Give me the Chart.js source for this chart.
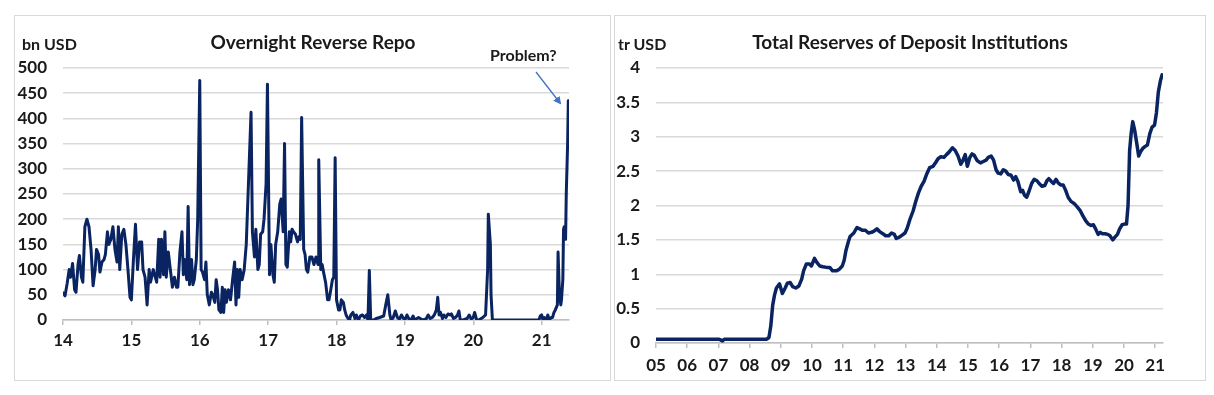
<!DOCTYPE html>
<html>
<head>
<meta charset="utf-8">
<script src="https://cdn.jsdelivr.net/npm/chart.js@4.4.1/dist/chart.umd.min.js"></script>
<style>
  html, body { margin: 0; padding: 0; background: #ffffff; }
  body { width: 1214px; height: 395px; position: relative; overflow: hidden; font-family: Lato, "Liberation Sans", sans-serif; }
  .panel { position: absolute; border: 1px solid #d9d9d9; box-sizing: border-box; }
  .panel canvas { position: absolute; left: 0; top: 0; }
  .lbl { position: absolute; font-weight: bold; color: #1a1a1a; white-space: nowrap; }
  .ttl { position: absolute; font-weight: bold; color: #1a1a1a; white-space: nowrap; font-size: 19px; line-height: 23px; text-align: center; width: 500px; }
</style>
</head>
<body>
<div class="panel" id="p1" style="left:14px; top:15px; width:597px; height:366px;">
  <canvas id="c1" width="596" height="365" style="width:596px;height:365px;"></canvas>
</div>
<div class="panel" id="p2" style="left:614px; top:15px; width:592px; height:366px;">
  <canvas id="c2" width="591" height="365" style="width:591px;height:365px;"></canvas>
</div>
<div class="ttl" style="left:63px; top:30px;">Overnight Reverse Repo</div>
<div class="ttl" style="left:660px; top:30px;">Total Reserves of Deposit Institutions</div>
<div class="lbl" style="left:22px; top:34px; font-size:16px;">bn USD</div>
<div class="lbl" style="left:490px; top:45px; font-size:16px;">Problem?</div>
<div class="lbl" style="left:618px; top:34px; font-size:16px;">tr USD</div>
<svg style="position:absolute;left:0;top:0;" width="1214" height="395">
  <defs>
    <marker id="ah" markerWidth="8" markerHeight="8" refX="6" refY="4" orient="auto" markerUnits="userSpaceOnUse">
      <path d="M0,0 L8,4 L0,8 Z" fill="#4472c4"/>
    </marker>
  </defs>
  <line x1="536" y1="72" x2="560" y2="103" stroke="#4472c4" stroke-width="1.3" marker-end="url(#ah)"/>
</svg>
<script>
// ---- Overnight Reverse Repo (bn USD), x = year (14 = 2014)
const repoYears = [14.00,14.03,14.06,14.09,14.11,14.14,14.17,14.19,14.22,14.24,14.27,14.29,14.32,14.35,14.38,14.41,14.44,14.47,14.49,14.52,14.54,14.57,14.60,14.62,14.65,14.67,14.70,14.73,14.76,14.79,14.81,14.83,14.86,14.89,14.92,14.95,14.98,
15.00,15.03,15.06,15.09,15.12,15.15,15.17,15.20,15.23,15.26,15.28,15.32,15.34,15.37,15.40,15.42,15.44,15.47,15.49,15.51,15.54,15.57,15.60,15.63,15.66,15.68,15.71,15.74,15.76,15.78,15.81,15.83,15.85,15.88,15.90,15.92,15.95,15.97,
16.00,16.02,16.04,16.07,16.09,16.11,16.14,16.17,16.19,16.22,16.24,16.26,16.28,16.31,16.33,16.35,16.37,16.39,16.42,16.45,16.48,16.51,16.53,16.55,16.57,16.59,16.62,16.65,16.68,16.72,16.75,16.77,16.80,16.82,16.85,16.87,16.89,16.92,16.94,16.97,16.99,
17.02,17.04,17.07,17.09,17.11,17.14,17.17,17.19,17.22,17.24,17.26,17.28,17.31,17.33,17.35,17.37,17.40,17.43,17.45,17.47,17.49,17.52,17.54,17.56,17.58,17.61,17.64,17.67,17.70,17.73,17.74,17.77,17.79,17.81,17.84,17.87,17.89,17.91,17.94,17.96,17.98,
18.00,18.03,18.05,18.07,18.10,18.12,18.14,18.16,18.19,18.21,18.24,18.27,18.29,18.32,18.35,18.38,18.41,18.44,18.46,18.48,18.50,18.54,18.58,18.63,18.69,18.72,18.75,18.78,18.80,18.83,18.86,18.89,18.92,18.95,18.97,
19.00,19.03,19.06,19.09,19.12,19.14,19.20,19.26,19.31,19.34,19.37,19.40,19.43,19.46,19.48,19.50,19.52,19.55,19.57,19.60,19.63,19.66,19.68,19.71,19.74,19.77,19.79,19.81,19.85,19.91,19.94,19.97,
20.00,20.02,20.05,20.08,20.14,20.18,20.21,20.22,20.25,20.26,20.28,20.96,20.98,
21.00,21.02,21.04,21.07,21.09,21.11,21.14,21.16,21.18,21.20,21.23,21.24,21.26,21.28,21.29,21.31,21.32,21.33,21.35,21.36,21.38,21.39];
const repoValues = [54,48,72,100,85,112,60,55,110,128,85,75,185,200,185,140,68,100,140,130,95,115,120,130,175,150,160,185,140,115,185,100,170,180,150,100,45,
40,120,190,100,155,155,100,85,30,100,75,100,90,75,160,85,160,90,175,85,135,100,65,85,65,65,135,175,90,120,80,225,70,120,70,80,120,200,
475,100,95,80,115,50,30,55,50,35,80,60,20,15,65,15,60,35,60,40,80,115,30,100,45,100,80,100,150,300,412,175,125,180,100,110,170,175,200,270,468,
90,150,90,75,150,175,230,240,175,350,110,105,175,155,180,175,170,155,165,160,402,140,130,100,95,125,125,110,125,110,318,100,110,95,75,40,40,55,80,85,322,
40,20,20,40,35,20,10,5,0,10,15,3,10,0,8,10,5,10,0,98,0,0,3,5,8,30,50,10,0,5,18,5,2,10,5,
0,10,2,0,8,0,5,0,2,10,3,5,10,20,45,10,15,3,10,5,12,10,12,3,5,10,18,0,0,3,10,2,
5,15,0,0,5,10,100,210,150,50,0,0,8,
10,0,5,0,10,0,5,5,15,20,30,135,50,30,40,80,180,185,160,250,350,435];
const repoTickYears = [14,15,16,17,18,19,20,21];

// ---- Total Reserves of Deposit Institutions (tr USD), x = year (5 = 2005)
const reserveYears = [5.00,6.00,7.01,7.07,7.13,7.19,8.00,8.55,8.62,8.68,8.74,8.80,8.86,8.96,9.05,9.14,9.21,9.30,9.38,9.48,9.58,9.67,9.73,9.82,9.92,9.98,
10.08,10.16,10.25,10.35,10.47,10.57,10.66,10.78,10.87,10.97,11.03,11.09,11.17,11.22,11.34,11.44,11.53,11.61,11.71,11.81,11.91,
12.00,12.08,12.17,12.27,12.36,12.46,12.55,12.64,12.70,12.80,12.89,12.98,13.05,13.14,13.24,13.32,13.41,13.50,13.59,13.67,13.77,13.88,13.97,
14.04,14.13,14.23,14.31,14.40,14.50,14.59,14.68,14.77,14.83,14.91,14.98,15.06,15.13,15.20,15.30,15.40,15.49,15.58,15.65,15.74,15.82,15.90,15.97,
16.05,16.13,16.21,16.29,16.38,16.46,16.53,16.60,16.69,16.75,16.81,16.88,16.95,17.04,17.12,17.21,17.28,17.37,17.46,17.53,17.59,17.67,17.74,17.82,17.89,17.97,
18.05,18.13,18.21,18.30,18.40,18.50,18.59,18.67,18.77,18.86,18.94,19.02,19.09,19.17,19.24,19.30,19.39,19.48,19.55,19.64,19.71,19.79,19.86,19.94,
20.01,20.08,20.13,20.18,20.23,20.28,20.34,20.41,20.47,20.53,20.60,20.68,20.75,20.83,20.90,20.98,21.04,21.10,21.17,21.22];
const reserveValues = [0.055,0.055,0.055,0.045,0.03,0.055,0.055,0.055,0.08,0.25,0.55,0.70,0.80,0.86,0.72,0.80,0.87,0.88,0.82,0.80,0.83,0.93,1.05,1.15,1.15,1.12,
1.23,1.17,1.12,1.11,1.10,1.10,1.05,1.05,1.07,1.12,1.20,1.35,1.48,1.55,1.60,1.68,1.66,1.64,1.64,1.60,1.61,
1.63,1.66,1.62,1.59,1.56,1.56,1.60,1.58,1.52,1.54,1.57,1.60,1.67,1.80,1.92,2.05,2.18,2.28,2.35,2.45,2.55,2.57,2.63,
2.68,2.71,2.70,2.74,2.78,2.84,2.80,2.72,2.60,2.65,2.74,2.57,2.70,2.75,2.73,2.65,2.62,2.64,2.66,2.70,2.72,2.66,2.52,2.47,
2.46,2.52,2.50,2.45,2.44,2.37,2.42,2.35,2.20,2.22,2.15,2.12,2.20,2.32,2.38,2.36,2.32,2.28,2.29,2.36,2.39,2.35,2.32,2.38,2.33,2.30,
2.30,2.22,2.12,2.06,2.03,1.98,1.93,1.86,1.78,1.73,1.71,1.72,1.66,1.58,1.61,1.59,1.59,1.58,1.56,1.50,1.54,1.58,1.66,1.72,
1.73,1.73,2.00,2.80,3.05,3.22,3.10,2.90,2.72,2.78,2.83,2.86,2.88,3.05,3.14,3.17,3.35,3.65,3.82,3.90];
const reserveTickYears = [5,6,7,8,9,10,11,12,13,14,15,16,17,18,19,20,21];

const LINE = '#0a2462';
const GRID = '#d9d9d9';
const AXIS = '#bfbfbf';
const FONT = 'Lato, "Liberation Sans", sans-serif';
const TEXT = '#1a1a1a';

function pts(xs, ys) { return xs.map((x, i) => ({ x: x, y: ys[i] })); }

function makeChart(id, opt) {
  return new Chart(document.getElementById(id), {
    type: 'line',
    data: { datasets: [{
      data: pts(opt.xs, opt.ys),
      borderColor: LINE, borderWidth: opt.lw, pointRadius: 0, tension: 0,
      borderJoinStyle: 'round', borderCapStyle: 'round', fill: false
    }] },
    options: {
      responsive: false, animation: false, devicePixelRatio: 1,
      layout: { padding: { left: 0, right: opt.padRight, top: 52, bottom: 0 } },
      plugins: {
        legend: { display: false }, tooltip: { enabled: false }, title: { display: false }
      },
      scales: {
        x: {
          type: 'linear', min: opt.xmin, max: opt.xmax,
          afterBuildTicks: (s) => { s.ticks = opt.ticks.map(v => ({ value: v })); },
          afterFit: (s) => { s.height = opt.xh; },
          border: { display: true, color: AXIS, width: 1.5 },
          grid: { display: true, drawOnChartArea: false, drawTicks: true, tickLength: 5, color: AXIS, lineWidth: 1.5 },
          ticks: { autoSkip: false, maxRotation: 0, padding: opt.xpad, color: TEXT,
            font: { family: FONT, size: 17, weight: 'bold' },
            callback: (v) => (v < 10 ? '0' + v : String(v)) }
        },
        y: {
          min: 0, max: opt.ymax,
          afterFit: (s) => { s.width = opt.yw; },
          border: { display: false },
          grid: { color: GRID, lineWidth: 1.5, drawTicks: false },
          ticks: { stepSize: opt.ystep, padding: 16, color: TEXT,
            font: { family: FONT, size: 17, weight: 'bold' },
            callback: (v) => String(v) }
        }
      }
    }
  });
}

makeChart('c1', { xs: repoYears, ys: repoValues,
  xmin: 14, xmax: 21.40, ticks: repoTickYears, ymax: 500, ystep: 50,
  yw: 48, xh: 61, xpad: 5, padRight: 42, lw: 3 });
makeChart('c2', { xs: reserveYears, ys: reserveValues,
  xmin: 5, xmax: 21.25, ticks: reserveTickYears, ymax: 4, ystep: 0.5,
  yw: 41, xh: 38, xpad: 7, padRight: 43, lw: 3.5 });
</script>
</body>
</html>
